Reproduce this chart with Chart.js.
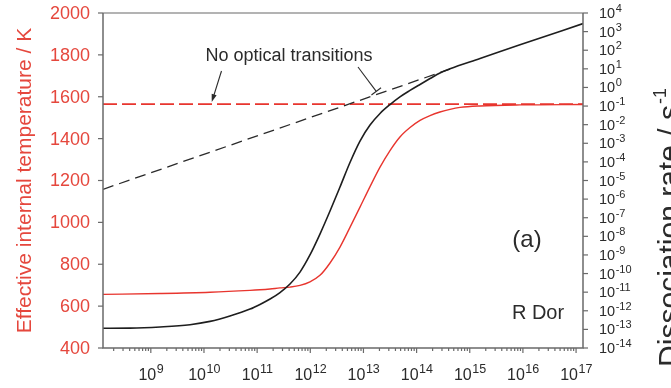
<!DOCTYPE html>
<html>
<head>
<meta charset="utf-8">
<script src="https://cdn.jsdelivr.net/npm/chart.js@4/dist/chart.umd.min.js"></script>
<style>
  html, body { margin: 0; padding: 0; background: #fff; }
  canvas { display: block; }
</style>
</head>
<body>
<canvas id="chart" width="671" height="388"></canvas>
<script>
// Effective internal temperature (left axis, K)
const tempX = [1.26e8, 1.49e9, 1.30e10, 7.35e10, 1.13e11, 1.75e11, 2.69e11, 4.15e11, 6.40e11, 9.86e11,
               1.52e12, 2.35e12, 3.62e12, 5.58e12, 8.61e12, 1.33e13, 2.05e13, 3.16e13, 4.86e13, 7.52e13,
               1.16e14, 1.79e14, 2.75e14, 4.25e14, 6.55e14, 1.56e15, 8.81e15, 1.35e17];
const tempK = [656, 660, 666, 675, 678, 682, 687, 691, 699, 716,
               747, 806, 882, 976, 1073, 1171, 1264, 1343, 1408, 1453,
               1487, 1510, 1527, 1540, 1549, 1556, 1561, 1563];

// Dissociation rate (right axis, s^-1)
const rateX = [1.26e8, 4.06e8, 1.49e9, 5.46e9, 1.30e10, 3.08e10, 7.35e10, 1.13e11, 1.75e11, 2.69e11,
               4.15e11, 6.40e11, 9.86e11, 1.52e12, 2.35e12, 3.62e12, 5.58e12, 8.61e12, 1.33e13, 2.05e13,
               3.16e13, 4.86e13, 7.52e13, 1.16e14, 1.79e14, 2.75e14, 4.25e14, 1.56e15, 8.81e15, 1.35e17];
const rate  = [1.15e-13, 1.17e-13, 1.35e-13, 1.78e-13, 2.69e-13, 5.25e-13, 1.23e-12, 2.19e-12, 4.27e-12, 9.55e-12,
               2.75e-11, 1.20e-10, 1.0e-9, 1.32e-8, 2.29e-7, 4.47e-6, 9.33e-5, 1.32e-3, 9.55e-3, 0.040,
               0.12, 0.31, 0.69, 1.45, 3.0, 6.0, 10, 35.5, 195, 2690];

// "No optical transitions" limits
const noOptX    = [1.26e8, 4.25e14];
const noOptRate = [3.36e-6, 9.7];
const limitX    = [1.26e8, 1.35e17];
const limitK    = [1565, 1565];

// Axis ticks
const tempTicks = [400, 600, 800, 1000, 1200, 1400, 1600, 1800, 2000];
const rateExps  = [-14, -13, -12, -11, -10, -9, -8, -7, -6, -5, -4, -3, -2, -1, 0, 1, 2, 3, 4];
const xExps     = [9, 10, 11, 12, 13, 14, 15, 16, 17];

const RED = '#e8352e';
const RED_TEXT = '#e5473d';
const DARK = '#2b2b2b';
const FONT = '"Liberation Sans", Arial, sans-serif';

const pts = (xs, ys) => xs.map((x, i) => ({ x, y: ys[i] }));

function drawPow(ctx, base, exp, x, y, baseSize, supSize, supRise, align, color) {
  ctx.fillStyle = color;
  ctx.font = baseSize + 'px ' + FONT;
  const wb = ctx.measureText(base).width;
  ctx.font = supSize + 'px ' + FONT;
  const ws = ctx.measureText(exp).width;
  let x0 = x;
  if (align === 'center') x0 = x - (wb + ws) / 2;
  ctx.textAlign = 'left';
  ctx.textBaseline = 'alphabetic';
  ctx.font = baseSize + 'px ' + FONT;
  ctx.fillText(base, x0, y);
  ctx.font = supSize + 'px ' + FONT;
  ctx.fillText(exp, x0 + wb + 0.5, y - supRise);
}

const framePlugin = {
  id: 'frameAndLabels',
  afterDatasetsDraw(chart) {
    const { ctx, chartArea: a, scales } = chart;
    const xs = scales.x, yT = scales.yT, yR = scales.yR;
    ctx.save();

    // frame
    ctx.lineWidth = 1.5;
    ctx.strokeStyle = '#9a9a9a';
    ctx.beginPath(); ctx.moveTo(a.left, a.top); ctx.lineTo(a.right, a.top); ctx.stroke();
    ctx.strokeStyle = '#6a6a6a';
    ctx.beginPath();
    ctx.moveTo(a.left, a.top); ctx.lineTo(a.left, a.bottom); ctx.lineTo(a.right, a.bottom); ctx.lineTo(a.right, a.top);
    ctx.stroke();

    // left axis ticks + labels
    ctx.lineWidth = 1.2;
    ctx.strokeStyle = '#6a6a6a';
    ctx.fillStyle = RED_TEXT;
    ctx.font = '18px ' + FONT;
    ctx.textAlign = 'right';
    ctx.textBaseline = 'middle';
    tempTicks.forEach(v => {
      const y = yT.getPixelForValue(v);
      ctx.beginPath(); ctx.moveTo(a.left - 5, y); ctx.lineTo(a.left, y); ctx.stroke();
      ctx.fillText(String(v), a.left - 13, y + 1);
    });

    // right axis ticks + labels
    rateExps.forEach(e => {
      const y = yR.getPixelForValue(Math.pow(10, e));
      ctx.strokeStyle = '#6a6a6a';
      ctx.beginPath(); ctx.moveTo(a.right, y); ctx.lineTo(a.right + 5, y); ctx.stroke();
      drawPow(ctx, '10', String(e), a.right + 16, y + 5, 14.5, 11, 6, 'left', DARK);
    });

    // x axis ticks + labels
    ctx.strokeStyle = '#6a6a6a';
    for (let d = 8; d <= 17; d++) {
      for (let m = 1; m <= 9; m++) {
        const v = m * Math.pow(10, d);
        if (v < xs.min || v > xs.max) continue;
        const x = xs.getPixelForValue(v);
        ctx.beginPath(); ctx.moveTo(x, a.bottom); ctx.lineTo(x, a.bottom + (m === 1 ? 5 : 3)); ctx.stroke();
      }
    }
    xExps.forEach(e => {
      const x = xs.getPixelForValue(Math.pow(10, e));
      drawPow(ctx, '10', String(e), x, 380, 16, 12.5, 7, 'center', DARK);
    });

    // left axis title
    ctx.save();
    ctx.translate(25, (a.top + a.bottom) / 2);
    ctx.rotate(-Math.PI / 2);
    ctx.fillStyle = RED_TEXT;
    ctx.font = '21px ' + FONT;
    ctx.textAlign = 'center';
    ctx.textBaseline = 'middle';
    ctx.fillText('Effective internal temperature / K', 0, 0);
    ctx.restore();

    // right axis title
    ctx.save();
    ctx.translate(679, 228);
    ctx.rotate(-Math.PI / 2);
    ctx.fillStyle = DARK;
    ctx.font = '30px ' + FONT;
    const wMain = ctx.measureText('Dissociation rate / s').width;
    ctx.font = '18px ' + FONT;
    const wSup = ctx.measureText('-1').width;
    const x0 = -(wMain + wSup) / 2;
    ctx.textAlign = 'left';
    ctx.textBaseline = 'alphabetic';
    ctx.font = '30px ' + FONT;
    ctx.fillText('Dissociation rate / s', x0, 0);
    ctx.font = '18px ' + FONT;
    ctx.fillText('-1', x0 + wMain + 1, -13);
    ctx.restore();

    // annotations
    ctx.fillStyle = DARK;
    ctx.font = '18px ' + FONT;
    ctx.textAlign = 'center';
    ctx.textBaseline = 'middle';
    ctx.fillText('No optical transitions', 289, 56);

    ctx.font = '24px ' + FONT;
    ctx.fillText('(a)', 527, 240);
    ctx.font = '20px ' + FONT;
    ctx.fillText('R Dor', 538, 313);

    // arrow to the temperature limit
    ctx.strokeStyle = DARK;
    ctx.fillStyle = DARK;
    ctx.lineWidth = 1.1;
    const t1x = xs.getPixelForValue(1.4e10), t1y = yT.getPixelForValue(1565) - 2;
    const s1x = 221.5, s1y = 71;
    let ang = Math.atan2(t1y - s1y, t1x - s1x);
    ctx.beginPath(); ctx.moveTo(s1x, s1y); ctx.lineTo(t1x - 6 * Math.cos(ang), t1y - 6 * Math.sin(ang)); ctx.stroke();
    ctx.beginPath();
    ctx.moveTo(t1x, t1y);
    ctx.lineTo(t1x - 8 * Math.cos(ang) + 2.6 * Math.sin(ang), t1y - 8 * Math.sin(ang) - 2.6 * Math.cos(ang));
    ctx.lineTo(t1x - 8 * Math.cos(ang) - 2.6 * Math.sin(ang), t1y - 8 * Math.sin(ang) + 2.6 * Math.cos(ang));
    ctx.closePath(); ctx.fill();

    // arrow to the rate limit
    const t2x = xs.getPixelForValue(1.74e13), t2y = yR.getPixelForValue(0.48) - 2;
    const s2x = 358, s2y = 67;
    ang = Math.atan2(t2y - s2y, t2x - s2x);
    ctx.beginPath(); ctx.moveTo(s2x, s2y); ctx.lineTo(t2x, t2y); ctx.stroke();
    ctx.beginPath();
    ctx.moveTo(t2x + 6 * Math.sin(ang), t2y - 6 * Math.cos(ang));
    ctx.lineTo(t2x - 6 * Math.sin(ang), t2y + 6 * Math.cos(ang));
    ctx.stroke();

    ctx.restore();
  }
};

new Chart(document.getElementById('chart'), {
  type: 'line',
  data: {
    datasets: [
      { data: pts(rateX, rate), yAxisID: 'yR', borderColor: '#1e1e1e', borderWidth: 1.6,
        cubicInterpolationMode: 'monotone', pointRadius: 0 },
      { data: pts(tempX, tempK), yAxisID: 'yT', borderColor: RED, borderWidth: 1.4,
        cubicInterpolationMode: 'monotone', pointRadius: 0 },
      { data: pts(noOptX, noOptRate), yAxisID: 'yR', borderColor: '#2a2a2a', borderWidth: 1.3,
        borderDash: [11, 6], pointRadius: 0 },
      { data: pts(limitX, limitK), yAxisID: 'yT', borderColor: RED, borderWidth: 1.6,
        borderDash: [14, 5], pointRadius: 0 }
    ]
  },
  options: {
    responsive: false,
    animation: false,
    devicePixelRatio: 1,
    layout: { padding: { left: 103, right: 88, top: 13, bottom: 40 } },
    plugins: { legend: { display: false }, tooltip: { enabled: false } },
    scales: {
      x:  { type: 'logarithmic', min: 1.26e8, max: 1.35e17, display: false },
      yT: { type: 'linear', position: 'left', min: 400, max: 2000, display: false },
      yR: { type: 'logarithmic', position: 'right', min: 1e-14, max: 1e4, display: false }
    }
  },
  plugins: [framePlugin]
});
</script>
</body>
</html>
